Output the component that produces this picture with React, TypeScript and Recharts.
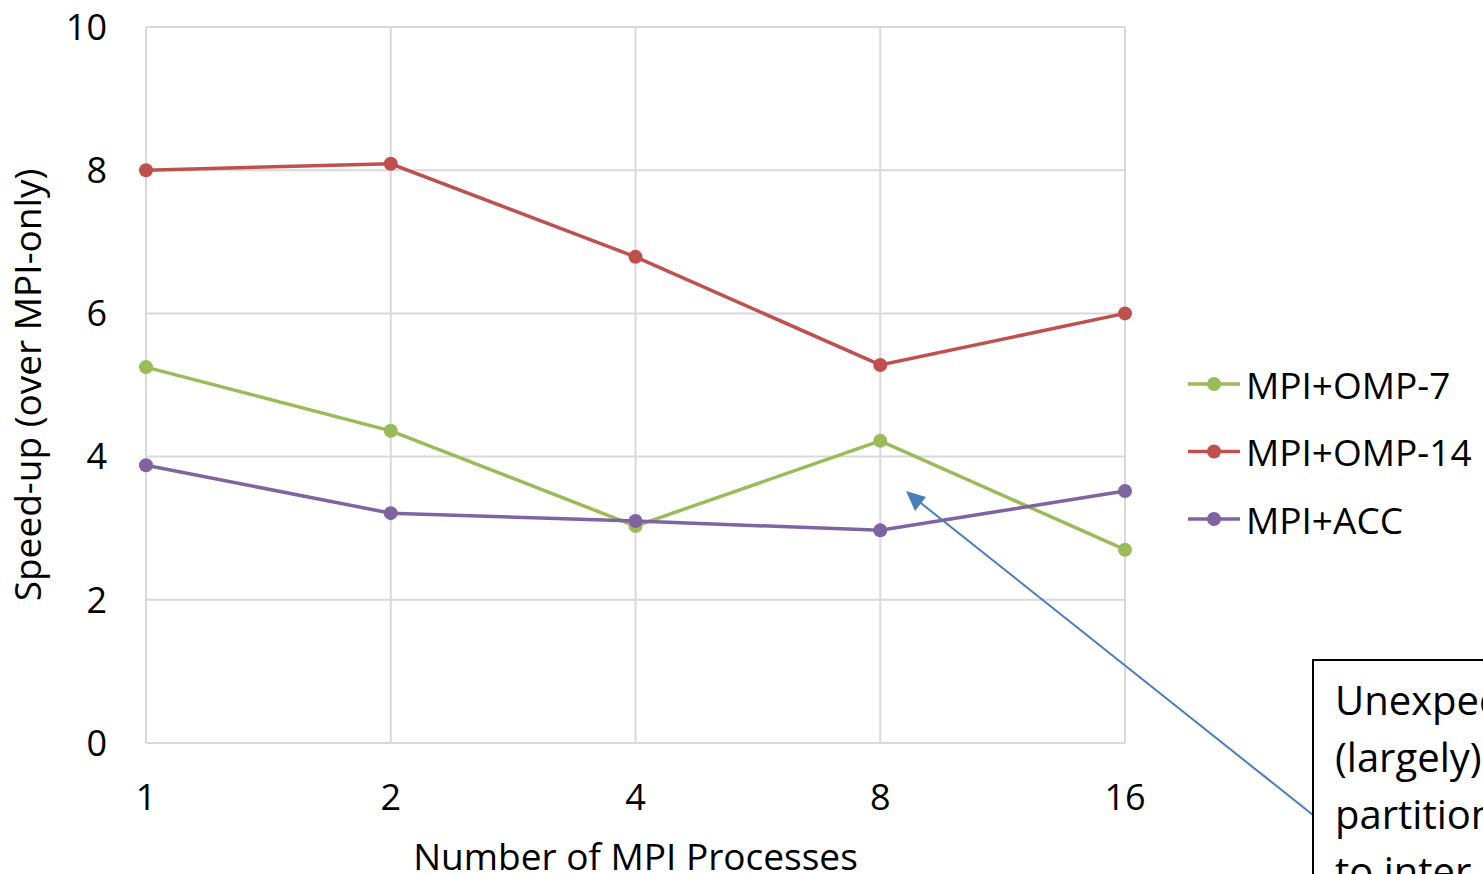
import React from 'react';
import { LineChart, Line, XAxis, YAxis, CartesianGrid, Legend } from 'recharts';

const categories = ['1', '2', '4', '8', '16'];
const omp7 = [5.25, 4.36, 3.03, 4.22, 2.7];
const omp14 = [8.0, 8.09, 6.79, 5.28, 6.0];
const acc = [3.88, 3.21, 3.1, 2.97, 3.52];
const yTicks = [0, 2, 4, 6, 8, 10];
const seriesNames = ['MPI+OMP-7', 'MPI+OMP-14', 'MPI+ACC'];
const seriesColors = ['#9bbb59', '#c0504d', '#8064a2'];
const annotationLines = ['Unexpected drop', '(largely) due to', 'partitioning', 'to inter-node'];

const data = categories.map((c, i) => ({
  procs: c,
  [seriesNames[0]]: omp7[i],
  [seriesNames[1]]: omp14[i],
  [seriesNames[2]]: acc[i],
}));

const FONT = "'Open Sans', sans-serif";
const GRID = '#d9d9d9';

const LegendContent = () => {
  return (
    <svg width={320} height={210} style={{ overflow: 'visible' }}>
      {seriesNames.map((name, i) => {
        const y = 24 + i * 67.5;
        return (
          <g key={name}>
            <line x1={0} x2={52} y1={y} y2={y} stroke={seriesColors[i]} strokeWidth={3.5} />
            <circle cx={26} cy={y} r={7} fill={seriesColors[i]} />
            <text x={58} y={y} dominantBaseline="central" fontFamily={FONT} fontSize={37} fill="#000">
              {name}
            </text>
          </g>
        );
      })}
    </svg>
  );
};

export default function App() {
  return (
    <div style={{ position: 'absolute', left: 0, top: 0, width: 1483, height: 874, overflow: 'hidden', background: '#fff' }}>
      <LineChart width={1483} height={874} data={data} margin={{ top: 27, right: 358, bottom: 0, left: 0 }}>
        <CartesianGrid stroke={GRID} strokeWidth={2} vertical={true} horizontal={true} />
        <XAxis
          dataKey="procs"
          height={131}
          axisLine={{ stroke: GRID, strokeWidth: 2 }}
          tickLine={false}
          tickSize={0}
          tickMargin={41}
          tick={{ fontFamily: FONT, fontSize: 36, fill: '#000' }}
          interval={0}
          label={{ value: 'Number of MPI Processes', position: 'insideBottom', offset: 0, fontFamily: FONT, fontSize: 37, fill: '#000', dy: -4 }}
        />
        <YAxis
          width={146}
          domain={[0, 10]}
          ticks={yTicks}
          axisLine={false}
          tickLine={false}
          tickSize={0}
          tickMargin={39}
          tick={{ fontFamily: FONT, fontSize: 36, fill: '#000' }}
          label={{ value: 'Speed-up (over MPI-only)', angle: -90, position: 'insideLeft', offset: 0, fontFamily: FONT, fontSize: 37, fill: '#000', dx: 28, style: { textAnchor: 'middle' } }}
        />
        <Legend
          layout="vertical"
          align="center"
          verticalAlign="middle"
          content={<LegendContent />}
          wrapperStyle={{ left: 1188, top: 360, width: 320 }}
        />
        {seriesNames.map((name, i) => (
          <Line
            key={name}
            type="linear"
            dataKey={name}
            name={name}
            stroke={seriesColors[i]}
            strokeWidth={3.5}
            dot={{ r: 7, fill: seriesColors[i], stroke: seriesColors[i], strokeWidth: 0 }}
            activeDot={false}
            isAnimationActive={false}
          />
        ))}
      </LineChart>
      <svg width={1483} height={874} style={{ position: 'absolute', left: 0, top: 0, pointerEvents: 'none' }}>
        <line x1={1313} y1={815} x2={912} y2={496} stroke="#4a7ebb" strokeWidth={2} />
        <path d="M906,491 L926,497 L915,511 Z" fill="#4a7ebb" />
        <rect x={1313} y={660} width={400} height={400} fill="#fff" stroke="#000" strokeWidth={2} />
        {annotationLines.map((t, i) => (
          <text key={t} x={1335} y={715 + i * 57} fontFamily={FONT} fontSize={40} fill="#000">
            {t}
          </text>
        ))}
      </svg>
    </div>
  );
}
